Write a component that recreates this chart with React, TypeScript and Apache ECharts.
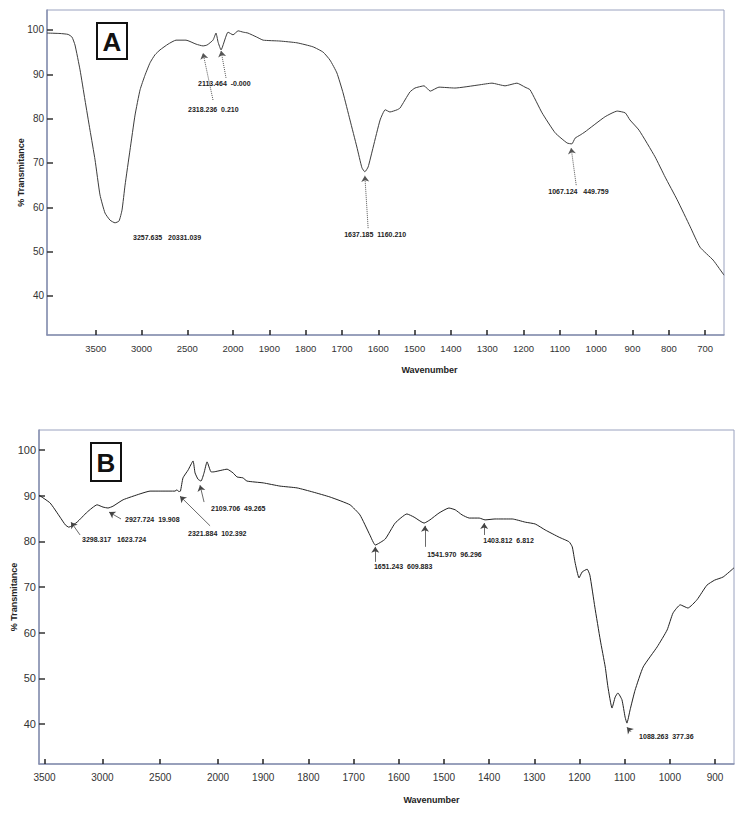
import React, { useEffect, useRef } from "react";
import * as echarts from "echarts";

// ---------- Panel A spectrum ----------
const specAWavenumber = [
  4033, 3891, 3803, 3760, 3727, 3672, 3618, 3563, 3508, 3454, 3399, 3344, 3290, 3246, 3213, 3180,
  3126, 3071, 3016, 2962, 2907, 2853, 2798, 2710, 2623, 2514, 2404, 2328, 2284, 2219, 2186, 2164,
  2131, 2055, 2000, 1986, 1972, 1959, 1935, 1917, 1871, 1824, 1780, 1752, 1733, 1714, 1697, 1678,
  1659, 1645, 1637, 1628, 1614, 1595, 1581, 1568, 1548, 1540, 1513, 1499, 1474, 1457, 1433, 1389,
  1323, 1287, 1251, 1218, 1196, 1182, 1149, 1113, 1080, 1067, 1058, 1044, 1031, 976, 942, 920,
  907, 882, 838, 810, 777, 741, 714, 678, 648,
];
const specATransmittance = [
  99.3, 99.2, 99.0, 98.4, 96.6, 91.0, 84.2, 77.4, 70.7, 62.8, 58.7, 57.1, 56.5, 56.9, 59.4, 65.0,
  72.9, 80.8, 86.5, 89.8, 92.6, 94.4, 95.5, 96.8, 97.7, 97.7, 96.8, 96.4, 96.6, 97.7, 99.3, 97.3,
  95.5, 99.5, 98.9, 99.8, 99.5, 99.3, 98.4, 97.7, 97.5, 97.1, 96.2, 95.0, 93.2, 90.3, 85.8, 79.7,
  73.6, 68.9, 68.0, 69.1, 73.6, 79.7, 82.0, 81.5, 82.0, 82.4, 86.0, 86.9, 87.4, 86.2, 87.1, 86.9,
  87.6, 88.0, 87.4, 88.0, 87.1, 86.5, 81.3, 76.8, 74.5, 74.3, 75.6, 76.3, 77.0, 80.4, 81.7, 81.3,
  79.7, 77.4, 71.4, 66.8, 61.7, 55.6, 51.0, 48.1, 44.7,
];

// ---------- Panel B spectrum ----------
const specBWavenumber = [
  3547, 3452, 3366, 3320, 3290, 3219, 3132, 3046, 2994, 2951, 2908, 2821, 2674, 2588, 2501, 2415,
  2372, 2355, 2340, 2325, 2303, 2259, 2216, 2199, 2173, 2147, 2121, 2095, 2060, 2043, 1980, 1967,
  1958, 1945, 1936, 1900, 1863, 1825, 1790, 1752, 1708, 1686, 1664, 1652, 1630, 1608, 1582, 1566,
  1544, 1531, 1511, 1489, 1475, 1460, 1444, 1422, 1409, 1387, 1349, 1320, 1298, 1276, 1245, 1223,
  1216, 1210, 1201, 1194, 1183, 1177, 1166, 1154, 1143, 1137, 1128, 1121, 1115, 1106, 1099, 1095,
  1088, 1077, 1059, 1028, 1006, 993, 977, 960, 940, 918, 901, 882, 858,
];
const specBTransmittance = [
  90.1, 88.4, 85.3, 83.6, 83.1, 84.2, 86.4, 88.0, 87.5, 87.3, 87.7, 89.1, 90.4, 91.0, 91.0, 91.0,
  91.0, 91.3, 90.9, 91.0, 93.9, 95.6, 97.6, 95.0, 93.6, 93.2, 95.0, 97.4, 95.2, 95.2, 95.8, 95.0,
  94.1, 93.9, 93.2, 92.8, 92.1, 91.7, 90.8, 89.7, 88.0, 85.8, 81.4, 79.2, 80.5, 84.0, 86.0, 85.3,
  84.0, 84.7, 86.2, 87.3, 86.9, 85.8, 85.1, 85.1, 84.7, 84.9, 84.9, 84.2, 83.8, 82.5, 80.9, 79.9,
  78.8, 75.5, 72.0, 73.3, 73.9, 72.6, 65.6, 58.4, 52.5, 48.1, 43.5, 45.9, 46.8, 45.3, 41.5, 40.2,
  43.1, 47.4, 52.5, 56.9, 60.6, 64.3, 66.1, 65.4, 67.2, 70.4, 71.5, 72.2, 74.2,
];

// ---------- Axis ticks ----------
const xTicksA = [3500, 3000, 2500, 2000, 1900, 1800, 1700, 1600, 1500, 1400, 1300, 1200, 1100, 1000, 900, 800, 700];
const xTicksB = [3500, 3000, 2500, 2000, 1900, 1800, 1700, 1600, 1500, 1400, 1300, 1200, 1100, 1000, 900];
const yTicks = [40, 50, 60, 70, 80, 90, 100];
const xRangeA = [648, 4033];
const xRangeB = [858, 3548];
const yRangeA = [31.2, 104.5];
const yRangeB = [31.25, 104.38];

// ---------- Annotations ----------
const annotATexts = ["2113.464  -0.000", "2318.236  0.210", "3257.635   20331.039", "1637.185  1160.210", "1067.124   449.759"];
const annotAWavenumber = [2383, 2492, 3093, 1694, 1132];
const annotATransmittance = [88.0, 82.0, 53.3, 53.8, 63.5];
const arrowAFromW = [2077, 2219, 1628, 1055];
const arrowAFromT = [89.2, 84.2, 55.3, 65.0];
const arrowAToW = [2131, 2328, 1637, 1069];
const arrowAToT = [95.3, 94.8, 67.1, 73.4];

const annotBTexts = [
  "3298.317   1623.724", "2927.724  19.908", "2321.884  102.392", "2109.706  49.265",
  "1651.243  609.883", "1541.970  96.296", "1403.812  6.812", "1088.263  377.36",
];
const annotBWavenumber = [3176, 2804, 2259, 2061, 1655, 1537, 1413, 1068];
const annotBTransmittance = [80.5, 84.7, 81.8, 87.1, 74.4, 77.2, 80.1, 37.2];
const arrowBFromW = [3193, 2839, 2069, 2121, 1652, 1542, 1411, 1086];
const arrowBFromT = [81.4, 84.9, 83.4, 88.6, 75.5, 78.8, 81.4, 38.3];
const arrowBToW = [3271, 2942, 2329, 2156, 1652, 1542, 1411, 1095];
const arrowBToT = [84.2, 86.4, 89.9, 92.3, 78.8, 83.4, 84.0, 39.3];

const ratioA = 1.26;
const ratioB = 1.28;

function toPos(w: number, r: number) {
  return w >= 2000 ? -((w - 2000) / 500) * r : (2000 - w) / 100;
}
function fromPos(p: number, r: number) {
  return p < 0 ? 2000 + (-p / r) * 500 : 2000 - p * 100;
}

const FONT = "Liberation Sans";

function makeXAxis(gridIndex: number, ticks: number[], r: number, range: number[], labelSize: number, nameGap: number, padLeft: number) {
  const vals = ticks.map((t) => toPos(t, r));
  return {
    type: "value",
    gridIndex,
    min: toPos(range[1], r),
    max: toPos(range[0], r),
    splitLine: { show: false },
    axisLine: { show: true, onZero: false, lineStyle: { color: "#8790b0", width: 1.5 } },
    axisTick: { show: true, inside: true, length: 5, customValues: vals, lineStyle: { color: "#222", width: 1.5 } },
    axisLabel: {
      show: true,
      customValues: vals,
      formatter: (v: number) => String(Math.round(fromPos(v, r) / 100) * 100),
      color: "#333",
      fontSize: labelSize,
      fontFamily: FONT,
      margin: 8,
    },
    name: "Wavenumber",
    nameLocation: "middle",
    nameGap,
    nameMoveOverlap: false,
    nameTextStyle: { fontWeight: "bold", fontSize: 9, fontFamily: FONT, color: "#222", padding: [0, 0, 0, padLeft] },
  };
}

function makeYAxis(gridIndex: number, range: number[], labelSize: number, nameGap: number) {
  return {
    type: "value",
    gridIndex,
    min: range[0],
    max: range[1],
    splitLine: { show: false },
    axisLine: { show: true, onZero: false, lineStyle: { color: "#8790b0", width: 1.5 } },
    axisTick: { show: true, inside: true, length: 6, customValues: yTicks, lineStyle: { color: "#333", width: 1.5 } },
    axisLabel: { show: true, customValues: yTicks, color: "#333", fontSize: labelSize, fontFamily: FONT, margin: 3 },
    name: "% Transmitance",
    nameLocation: "middle",
    nameGap,
    nameMoveOverlap: false,
    nameTextStyle: { fontWeight: "bold", fontSize: 9, fontFamily: FONT, color: "#222" },
  };
}

function makeSeries(
  idx: number, r: number, ws: number[], ts: number[], color: string,
  texts: string[], tw: number[], tt: number[],
  fw: number[], ft: number[], aw: number[], at: number[], dotted: boolean
) {
  return {
    type: "line",
    xAxisIndex: idx,
    yAxisIndex: idx,
    data: ws.map((w, i) => [toPos(w, r), ts[i]]),
    showSymbol: false,
    symbol: "none",
    smooth: 0.15,
    lineStyle: { color, width: 1 },
    silent: true,
    markLine: {
      silent: true,
      symbol: ["none", "arrow"],
      symbolSize: 6,
      label: { show: false },
      lineStyle: { type: dotted ? "dotted" : "solid", color: dotted ? "#555" : "#444", width: dotted ? 1 : 0.8 },
      data: fw.map((w, i) => [
        { coord: [toPos(w, r), ft[i]] },
        { coord: [toPos(aw[i], r), at[i]] },
      ]),
    },
    markPoint: {
      silent: true,
      symbol: "circle",
      symbolSize: 0,
      label: {
        show: true,
        position: "right",
        distance: 0,
        formatter: (p: any) => p.name,
        fontSize: 7,
        fontWeight: "bold",
        fontFamily: FONT,
        color: "#222",
      },
      data: texts.map((t, i) => ({ name: t, coord: [toPos(tw[i], r), tt[i]] })),
    },
  };
}

function letterBox(x: number, y: number, w: number, h: number, letter: string) {
  return {
    type: "group",
    children: [
      { type: "rect", shape: { x, y, width: w, height: h }, style: { fill: "#fff", stroke: "#111", lineWidth: 2 } },
      {
        type: "text",
        x: x + w / 2,
        y: y + h / 2 + 1,
        style: { text: letter, fill: "#111", font: `bold 26px ${FONT}`, align: "center", verticalAlign: "middle" },
      },
    ],
  };
}

export default function App() {
  const ref = useRef<HTMLDivElement>(null);
  useEffect(() => {
    if (!ref.current) return;
    const chart = echarts.init(ref.current, undefined, { renderer: "svg" });
    chart.setOption({
      animation: false,
      backgroundColor: "#fff",
      grid: [
        { left: 47, top: 10, width: 677, height: 325, show: true, borderColor: "#9aa2bf", borderWidth: 1, containLabel: false },
        { left: 39, top: 430, width: 695, height: 334, show: true, borderColor: "#9aa2bf", borderWidth: 1, containLabel: false },
      ],
      xAxis: [
        makeXAxis(0, xTicksA, ratioA, xRangeA, 9.5, 30, 88),
        makeXAxis(1, xTicksB, ratioB, xRangeB, 10, 31, 90),
      ],
      yAxis: [makeYAxis(0, yRangeA, 10, 22), makeYAxis(1, yRangeB, 11, 21)],
      series: [
        makeSeries(0, ratioA, specAWavenumber, specATransmittance, "#3c3c3c", annotATexts, annotAWavenumber, annotATransmittance, arrowAFromW, arrowAFromT, arrowAToW, arrowAToT, true),
        makeSeries(1, ratioB, specBWavenumber, specBTransmittance, "#222", annotBTexts, annotBWavenumber, annotBTransmittance, arrowBFromW, arrowBFromT, arrowBToW, arrowBToT, false),
      ],
      graphic: [letterBox(97, 23, 30, 36, "A"), letterBox(91, 443, 30, 38, "B")],
    });
    return () => chart.dispose();
  }, []);
  return <div ref={ref} style={{ position: "absolute", left: 0, top: 0, width: 744, height: 813, background: "#fff" }} />;
}
